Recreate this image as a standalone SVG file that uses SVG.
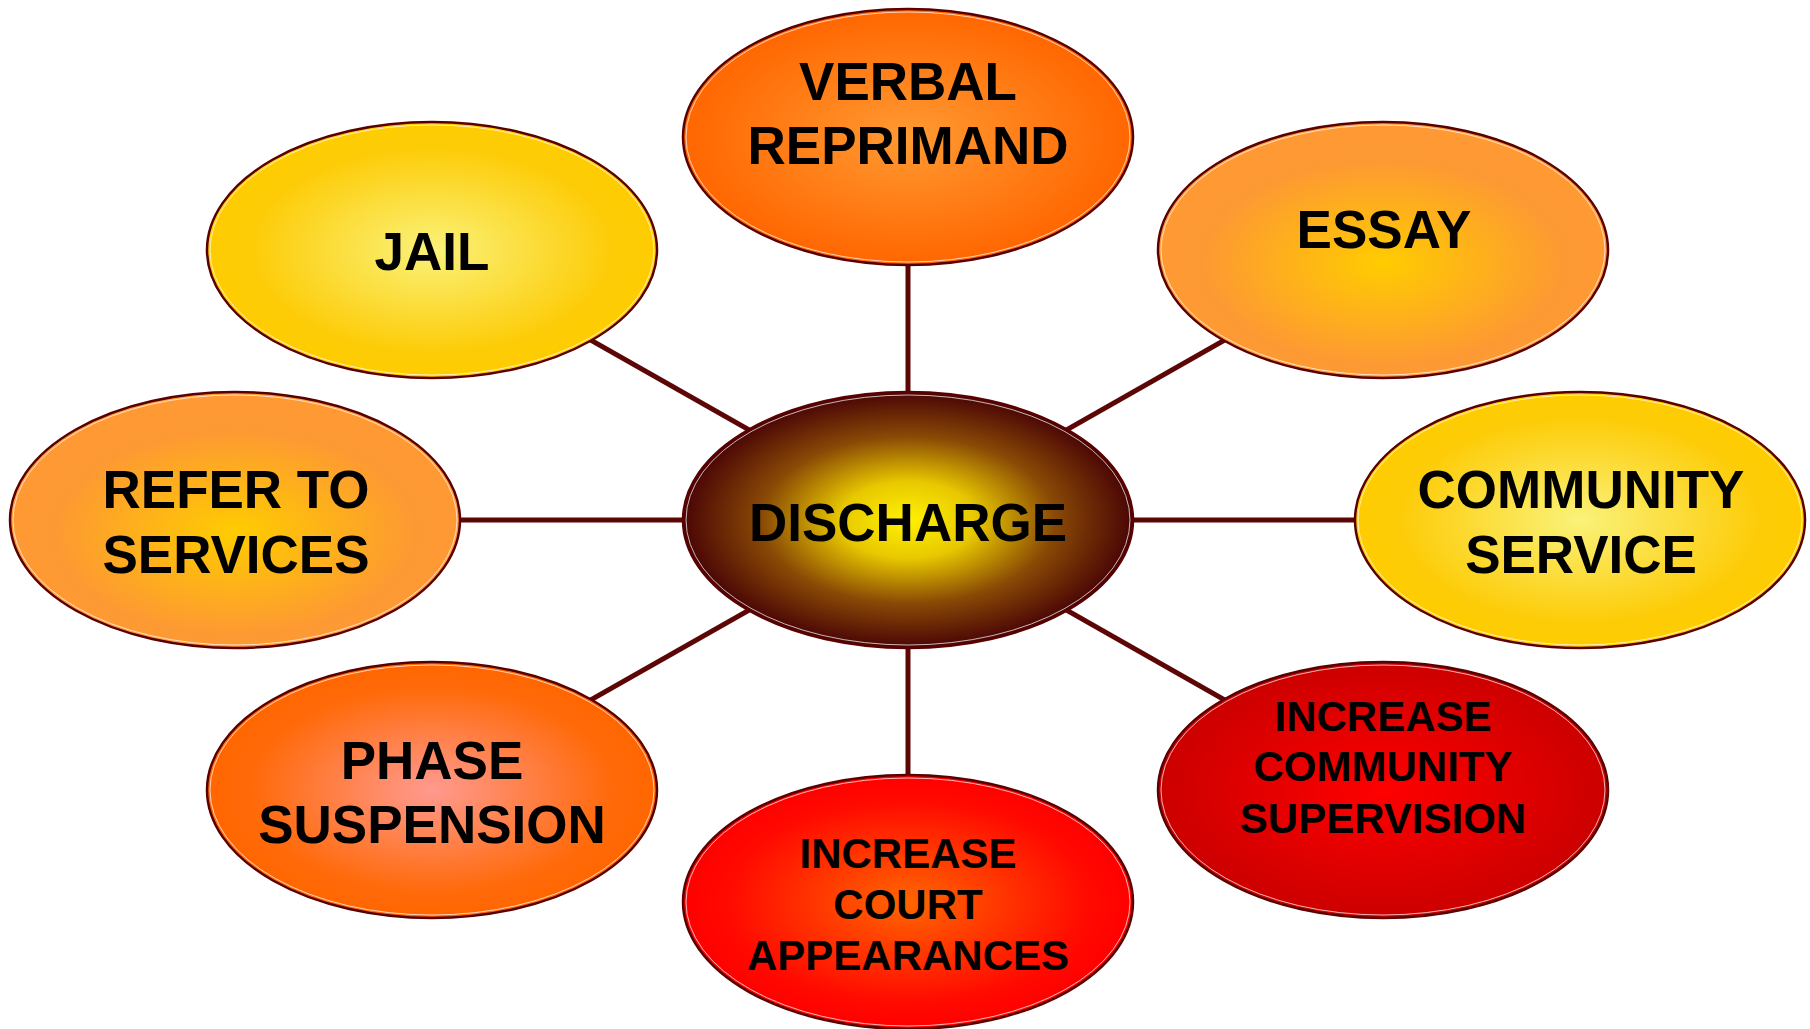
<svg xmlns="http://www.w3.org/2000/svg" width="1810" height="1029" viewBox="0 0 1810 1029">
<style>
.node ellipse.shape{stroke:#5a0000;stroke-width:2.5}
.node ellipse.hl{fill:none;stroke:#ffffff;stroke-width:1;opacity:0.7}
.lbl{font-family:"Liberation Sans",Arial,sans-serif;font-weight:bold;fill:#000;text-anchor:middle}
.big{font-size:53px}
.small{font-size:42px}
.conn line{stroke:#5c0606;stroke-width:5}
</style>
<defs>
<radialGradient id="gCenter" cx="50%" cy="50%" r="50%">
<stop offset="0" stop-color="#fff200"/>
<stop offset="0.3" stop-color="#e8c800"/>
<stop offset="0.65" stop-color="#8a4a05"/>
<stop offset="1" stop-color="#4a0505"/>
</radialGradient>
<radialGradient id="gOrangeDeep" cx="50%" cy="50%" r="50%">
<stop offset="0" stop-color="#ff9a33"/>
<stop offset="1" stop-color="#ff6600"/>
</radialGradient>
<radialGradient id="gYellow" cx="50%" cy="50%" r="50%">
<stop offset="0" stop-color="#faf27a"/>
<stop offset="0.8" stop-color="#fdcc08"/>
<stop offset="1" stop-color="#ffcc00"/>
</radialGradient>
<radialGradient id="gOrangeLight" cx="50%" cy="55%" r="50%">
<stop offset="0" stop-color="#ffcc00"/>
<stop offset="0.8" stop-color="#fd9933"/>
<stop offset="1" stop-color="#ff9933"/>
</radialGradient>
<radialGradient id="gPink" cx="50%" cy="50%" r="50%">
<stop offset="0" stop-color="#ff9a8f"/>
<stop offset="0.8" stop-color="#ff6a0a"/>
<stop offset="1" stop-color="#ff6600"/>
</radialGradient>
<radialGradient id="gRedOrange" cx="50%" cy="50%" r="50%">
<stop offset="0" stop-color="#ff6600"/>
<stop offset="0.8" stop-color="#ff0a00"/>
<stop offset="1" stop-color="#ff0000"/>
</radialGradient>
<radialGradient id="gRed" cx="50%" cy="50%" r="50%">
<stop offset="0" stop-color="#ff0000"/>
<stop offset="1" stop-color="#cc0000"/>
</radialGradient>
</defs>
<rect width="1810" height="1029" fill="#ffffff"/>
<g id="connectors" class="conn">
<line x1="908" y1="520" x2="908" y2="137"/>
<line x1="908" y1="520" x2="908" y2="902"/>
<line x1="908" y1="520" x2="235" y2="520"/>
<line x1="908" y1="520" x2="1580" y2="520"/>
<line x1="908" y1="520" x2="432" y2="250"/>
<line x1="908" y1="520" x2="1383" y2="250"/>
<line x1="908" y1="520" x2="432" y2="790"/>
<line x1="908" y1="520" x2="1383" y2="790"/>
</g>
<g id="node-discharge" class="node">
<ellipse class="shape" cx="908" cy="520" rx="225" ry="128" fill="url(#gCenter)"/>
<ellipse class="hl" cx="908" cy="520" rx="222" ry="125"/>
<text class="lbl big" x="908" y="541">DISCHARGE</text>
</g>
<g id="node-verbal" class="node">
<ellipse class="shape" cx="908" cy="137" rx="225" ry="128" fill="url(#gOrangeDeep)"/>
<ellipse class="hl" cx="908" cy="137" rx="222" ry="125"/>
<text class="lbl big" x="908" y="100">VERBAL</text>
<text class="lbl big" x="908" y="164">REPRIMAND</text>
</g>
<g id="node-jail" class="node">
<ellipse class="shape" cx="432" cy="250" rx="225" ry="128" fill="url(#gYellow)"/>
<ellipse class="hl" cx="432" cy="250" rx="222" ry="125"/>
<text class="lbl big" x="432" y="270">JAIL</text>
</g>
<g id="node-essay" class="node">
<ellipse class="shape" cx="1383" cy="250" rx="225" ry="128" fill="url(#gOrangeLight)"/>
<ellipse class="hl" cx="1383" cy="250" rx="222" ry="125"/>
<text class="lbl big" x="1384" y="248">ESSAY</text>
</g>
<g id="node-refer" class="node">
<ellipse class="shape" cx="235" cy="520" rx="225" ry="128" fill="url(#gOrangeLight)"/>
<ellipse class="hl" cx="235" cy="520" rx="222" ry="125"/>
<text class="lbl big" x="236" y="508">REFER TO</text>
<text class="lbl big" x="236" y="573">SERVICES</text>
</g>
<g id="node-community" class="node">
<ellipse class="shape" cx="1580" cy="520" rx="225" ry="128" fill="url(#gYellow)"/>
<ellipse class="hl" cx="1580" cy="520" rx="222" ry="125"/>
<text class="lbl big" x="1581" y="508">COMMUNITY</text>
<text class="lbl big" x="1581" y="573">SERVICE</text>
</g>
<g id="node-phase" class="node">
<ellipse class="shape" cx="432" cy="790" rx="225" ry="128" fill="url(#gPink)"/>
<ellipse class="hl" cx="432" cy="790" rx="222" ry="125"/>
<text class="lbl big" x="432" y="779">PHASE</text>
<text class="lbl big" x="432" y="843">SUSPENSION</text>
</g>
<g id="node-court" class="node">
<ellipse class="shape" cx="908" cy="902" rx="225" ry="127" fill="url(#gRedOrange)"/>
<ellipse class="hl" cx="908" cy="902" rx="222" ry="124"/>
<text class="lbl small" x="908" y="868">INCREASE</text>
<text class="lbl small" x="908" y="919">COURT</text>
<text class="lbl small" x="908" y="970">APPEARANCES</text>
</g>
<g id="node-supervision" class="node">
<ellipse class="shape" cx="1383" cy="790" rx="225" ry="128" fill="url(#gRed)"/>
<ellipse class="hl" cx="1383" cy="790" rx="222" ry="125"/>
<text class="lbl small" x="1383" y="731">INCREASE</text>
<text class="lbl small" x="1383" y="781">COMMUNITY</text>
<text class="lbl small" x="1383" y="833">SUPERVISION</text>
</g>
</svg>
